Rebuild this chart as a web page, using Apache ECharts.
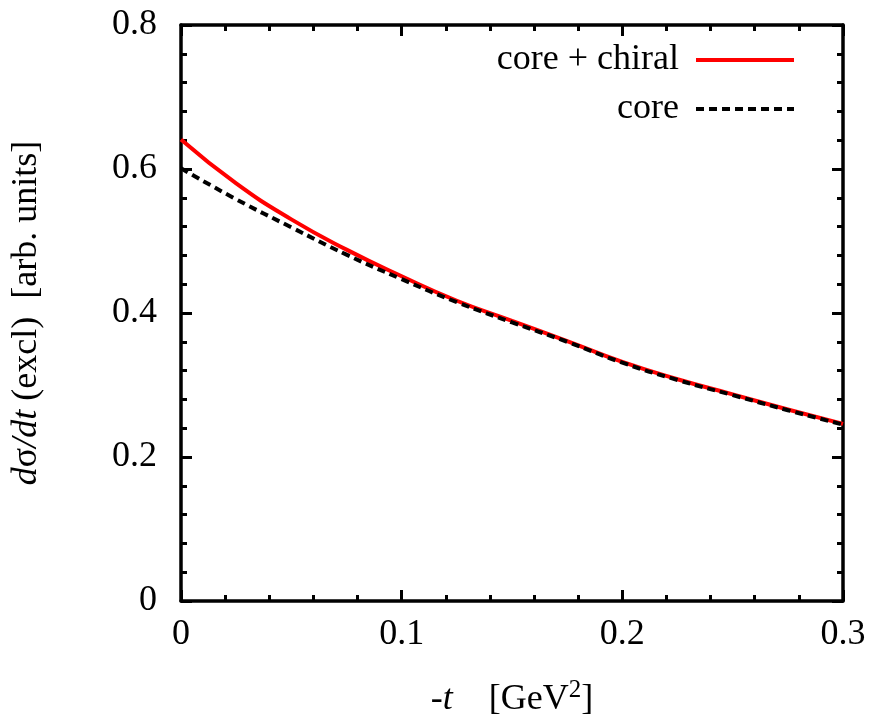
<!DOCTYPE html>
<html>
<head>
<meta charset="utf-8">
<script src="https://cdn.jsdelivr.net/npm/echarts@6/dist/echarts.min.js"></script>
<style>
  html, body { margin: 0; padding: 0; background: #fff; }
  #chart { width: 877px; height: 716px; }
</style>
</head>
<body>
<div id="chart"></div>
<script>
    // -t values [GeV^2]
    const tValues = [0, 0.025, 0.05, 0.075, 0.1, 0.125, 0.15, 0.175, 0.2, 0.225, 0.25, 0.275, 0.3]
    // d sigma / dt
    const coreChiral = [0.641, 0.580, 0.530, 0.488, 0.451, 0.417, 0.389, 0.361, 0.332, 0.308, 0.287, 0.266, 0.246]
    const core = [0.601, 0.558, 0.519, 0.481, 0.447, 0.415, 0.387, 0.360, 0.331, 0.307, 0.286, 0.265, 0.245]
    const xTicks = [0, 0.1, 0.2, 0.3]
    const yTicks = [0, 0.2, 0.4, 0.6, 0.8]

    const font = 'Liberation Serif'
    const fs = 36
    const pairs = (ys) => tValues.map((t, i) => [t, ys[i]])

    const axisBase = {
        axisLine: { show: true, onZero: false, lineStyle: { color: '#000', width: 3.5 } },
        axisTick: { show: true, inside: true, length: 11, lineStyle: { color: '#000', width: 3 } },
        minorTick: { show: true, splitNumber: 5, length: 6, lineStyle: { color: '#000', width: 3 } },
        splitLine: { show: false },
    }

    const chart = echarts.init(document.getElementById('chart'))
    const option = {
        animation: false,
        backgroundColor: '#fff',
        grid: { left: 181, right: 34, top: 25, bottom: 115, outerBoundsMode: 'none', containLabel: false },
        legend: {
            orient: 'vertical',
            right: 76,
            top: 37,
            align: 'right',
            itemWidth: 98,
            itemHeight: 14,
            itemGap: 13,
            itemStyle: { opacity: 0 },
            lineStyle: { width: 4 },
            textStyle: { fontFamily: font, fontSize: fs, color: '#000', padding: [0, 12, 0, 0] },
            data: ['core + chiral', 'core'],
        },
        xAxis: [
            Object.assign({}, axisBase, {
                type: 'value', min: 0, max: 0.3, interval: 0.1, position: 'bottom',
                axisLabel: {
                    margin: 16, fontFamily: font, fontSize: fs, color: '#000',
                    formatter: (v) => xTicks.includes(+v.toFixed(2)) ? String(+v.toFixed(2)) : ''
                },
                name: '{n|-}{i|t}{n|    [GeV}{sup|2}{n|]}',
                nameLocation: 'middle', nameGap: 77,
                nameTextStyle: {
                    rich: {
                        n: { fontFamily: font, fontSize: fs, color: '#000' },
                        i: { fontFamily: font, fontSize: fs, color: '#000', fontStyle: 'italic' },
                        sup: { fontFamily: font, fontSize: 25, color: '#000', padding: [0, 0, 18, 0] },
                    }
                },
            }),
            Object.assign({}, axisBase, {
                type: 'value', min: 0, max: 0.3, interval: 0.1, position: 'top',
                axisLabel: { show: false },
            }),
        ],
        yAxis: [
            Object.assign({}, axisBase, {
                type: 'value', min: 0, max: 0.8, interval: 0.2, position: 'left',
                axisLabel: {
                    margin: 24, fontFamily: font, fontSize: fs, color: '#000',
                    formatter: (v) => yTicks.includes(+v.toFixed(2)) ? String(+v.toFixed(2)) : ''
                },
                name: '{i|d}{n|σ}{i|/dt}{n| (excl)  [arb. units]}',
                nameLocation: 'middle', nameGap: 136, nameRotate: 90,
                nameTextStyle: {
                    rich: {
                        n: { fontFamily: font, fontSize: fs, color: '#000' },
                        i: { fontFamily: font, fontSize: fs, color: '#000', fontStyle: 'italic' },
                    }
                },
            }),
            Object.assign({}, axisBase, {
                type: 'value', min: 0, max: 0.8, interval: 0.2, position: 'right',
                axisLabel: { show: false },
            }),
        ],
        series: [
            {
                name: 'core + chiral', type: 'line', smooth: true, symbol: 'none',
                data: pairs(coreChiral),
                lineStyle: { color: '#ff0000', width: 4 },
                itemStyle: { color: '#ff0000' },
                z: 2,
            },
            {
                name: 'core', type: 'line', smooth: true, symbol: 'none',
                data: pairs(core),
                lineStyle: { color: '#000', width: 4, type: [8, 5] },
                itemStyle: { color: '#000' },
                z: 3,
            },
        ],
    }
    chart.setOption(option)
    window.addEventListener('resize', chart.resize)
</script>
</body>
</html>
